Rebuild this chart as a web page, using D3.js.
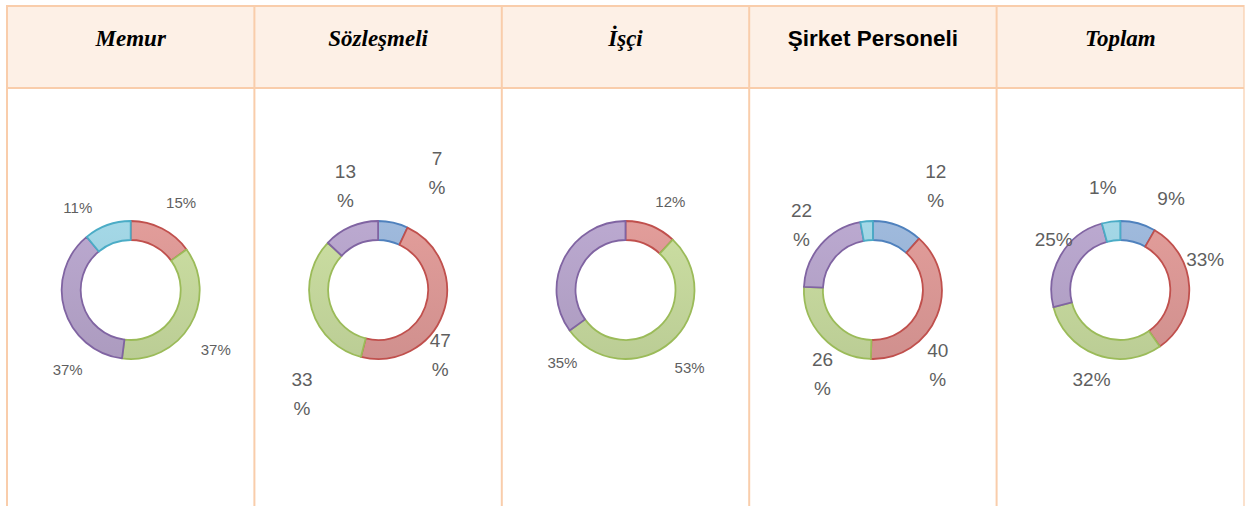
<!DOCTYPE html>
<html>
<head>
<meta charset="utf-8">
<script src="https://cdn.jsdelivr.net/npm/d3@7"></script>
<style>
  body { margin: 0; background: #fff; }
  svg { display: block; }
</style>
</head>
<body>
<script>
var width = 1245,
    height = 506;

// column headers (one donut per column)
var groups = ["Memur", "Sözleşmeli", "İşçi", "Şirket Personeli", "Toplam"];
var seriesKeys = ["s1", "s2", "s3", "s4", "s5"];

// slice sizes, series order s1..s5
var memurValues      = [0, 15, 37, 37, 11],
    sozlesmeliValues = [7, 47, 33, 13, 0],
    isciValues       = [0, 12, 53, 35, 0],
    sirketValues     = [12, 40, 26, 22, 3],
    toplamValues     = [8.3, 32, 30.7, 24.7, 4.3];

// data labels as printed
var memurLabels      = [null, "15%", "37%", "37%", "11%"],
    sozlesmeliLabels = ["7%", "47%", "33%", "13%", null],
    isciLabels       = [null, "12%", "53%", "35%", null],
    sirketLabels     = ["12%", "40%", "26%", "22%", null],
    toplamLabels     = ["9%", "33%", "32%", "25%", "1%"];

var allValues = [memurValues, sozlesmeliValues, isciValues, sirketValues, toplamValues],
    allLabels = [memurLabels, sozlesmeliLabels, isciLabels, sirketLabels, toplamLabels];

// layout: label styling and the nudges Excel applied when placing labels
var layout = [
  { size: 15, wrap: false, nudge: [null, [5, 2], [-1, 9], [33, 52], [-19, 12]] },
  { size: 19, wrap: true,  nudge: [[37, -20], [-32, 31], [20, 76], [7, -12], null] },
  { size: 15, wrap: false, nudge: [null, [8, 5], [-2, 3], [26, 118], null] },
  { size: 19, wrap: true,  nudge: [[27, -11], [-28, 38], [23, 16], [4, 1], null] },
  { size: 19, wrap: false, nudge: [[25, 5], [-15, -26], [6, -4], [20, -1], [-4, -4]] }
];

var fills   = ["#98b2d4", "#d99694", "#c3d69b", "#b3a2c7", "#9dcfdd"],
    strokes = ["#4f81bd", "#c0504d", "#9bbb59", "#8064a2", "#4bacc6"];

var tableLeft = 7, tableRight = 1244, tableTop = 6, headerBottom = 88,
    donutY = 290, outerR = 69, innerR = 50, labelR = 100,
    borderColor = "#f9cdab";

var svg = d3.select("body")
            .append("svg")
            .attr("width", width)
            .attr("height", height);

var col = d3.scaleBand()
            .domain(groups)
            .range([tableLeft, tableRight]);

var color = d3.scaleOrdinal().domain(seriesKeys).range(fills),
    stroke = d3.scaleOrdinal().domain(seriesKeys).range(strokes);

// soft top-to-bottom gradients, like Excel's subtle effect
var defs = svg.append("defs");
seriesKeys.forEach(function(k) {
  var c = d3.color(color(k));
  var g = defs.append("linearGradient")
      .attr("id", "grad-" + k)
      .attr("gradientUnits", "userSpaceOnUse")
      .attr("x1", 0).attr("y1", -outerR)
      .attr("x2", 0).attr("y2", outerR);
  g.append("stop").attr("offset", "0%").attr("stop-color", c.brighter(0.12));
  g.append("stop").attr("offset", "100%").attr("stop-color", c.darker(0.12));
});

/* Table */

svg.append("rect")
   .attr("x", tableLeft).attr("y", tableTop)
   .attr("width", tableRight - tableLeft)
   .attr("height", headerBottom - tableTop)
   .attr("fill", "#fdf0e6");

var grid = svg.append("g").attr("stroke", borderColor).attr("stroke-width", 2);
grid.append("line")
    .attr("x1", tableLeft - 1).attr("x2", tableRight)
    .attr("y1", tableTop).attr("y2", tableTop);
grid.append("line")
    .attr("x1", tableLeft - 1).attr("x2", tableRight)
    .attr("y1", headerBottom).attr("y2", headerBottom);
grid.selectAll("line.v")
    .data(groups)
    .enter().append("line")
    .attr("class", "v")
    .attr("x1", function(d) { return col(d); })
    .attr("x2", function(d) { return col(d); })
    .attr("y1", tableTop - 1).attr("y2", height);
grid.append("line")
    .attr("stroke-width", 1.2)
    .attr("x1", tableRight).attr("x2", tableRight)
    .attr("y1", tableTop - 1).attr("y2", height);

svg.selectAll("text.head")
   .data(groups)
   .enter().append("text")
   .attr("class", "head")
   .attr("x", function(d) { return col(d) + col.bandwidth() / 2; })
   .attr("y", 46)
   .attr("text-anchor", "middle")
   .attr("font-weight", "bold")
   .attr("font-family", function(d) {
     return d === "Şirket Personeli" ? "'Liberation Sans', Arial, sans-serif"
                                      : "'Liberation Serif', 'Times New Roman', serif";
   })
   .attr("font-style", function(d) { return d === "Şirket Personeli" ? "normal" : "italic"; })
   .attr("font-size", function(d) { return d === "Şirket Personeli" ? 22.5 : 23; })
   .attr("fill", "#000")
   .text(function(d) { return d; });

/* Donuts */

var pie = d3.pie().sort(null).value(function(d) { return d.value; });
var arc = d3.arc().innerRadius(innerR).outerRadius(outerR);
var labelArc = d3.arc().innerRadius(labelR).outerRadius(labelR);

groups.forEach(function(name, gi) {
  var rows = seriesKeys.map(function(k, i) {
    return { key: k, value: allValues[gi][i], label: allLabels[gi][i], nudge: layout[gi].nudge[i] };
  });
  var arcs = pie(rows);

  var g = svg.append("g")
      .attr("transform", "translate(" + (col(name) + col.bandwidth() / 2) + "," + donutY + ")");

  g.selectAll("path")
   .data(arcs.filter(function(d) { return d.data.value > 0; }))
   .enter().append("path")
   .attr("d", arc)
   .attr("fill", function(d) { return "url(#grad-" + d.data.key + ")"; })
   .attr("stroke", function(d) { return stroke(d.data.key); })
   .attr("stroke-width", 1.8)
   .attr("stroke-linejoin", "round");

  var lab = g.selectAll("text")
   .data(arcs.filter(function(d) { return d.data.label; }))
   .enter().append("text")
   .attr("font-family", "'Liberation Sans', Arial, sans-serif")
   .attr("font-size", layout[gi].size)
   .attr("fill", "#5f5f5f")
   .attr("text-anchor", "middle")
   .attr("transform", function(d) {
     var c = labelArc.centroid(d);
     return "translate(" + (c[0] + d.data.nudge[0]) + "," + (c[1] + d.data.nudge[1]) + ")";
   });

  if (layout[gi].wrap) {
    lab.each(function(d) {
      var t = d3.select(this);
      var parts = [d.data.label.replace("%", ""), "%"];
      t.selectAll("tspan")
       .data(parts)
       .enter().append("tspan")
       .attr("x", 0)
       .attr("y", function(p, i) { return (i - 0.5) * 29; })
       .attr("dy", "0.35em")
       .text(function(p) { return p; });
    });
  } else {
    lab.attr("dy", "0.35em").text(function(d) { return d.data.label; });
  }
});
</script>
</body>
</html>
